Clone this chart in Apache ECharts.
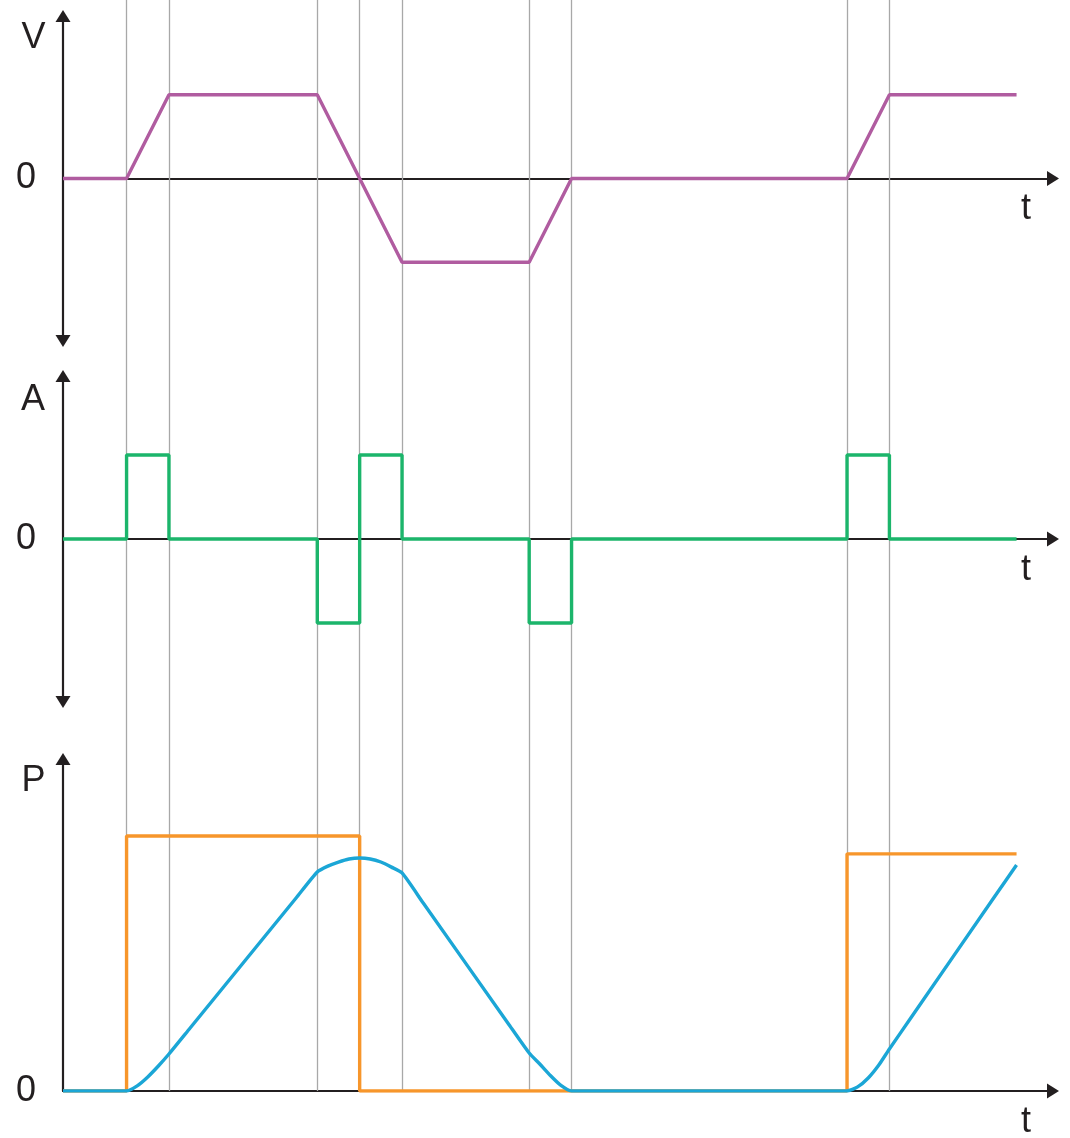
<!DOCTYPE html>
<html><head><meta charset="utf-8">
<script src="https://cdn.jsdelivr.net/npm/echarts@6/dist/echarts.min.js"></script>
<style>html,body{margin:0;padding:0;background:#fff}#c{width:1070px;height:1138px}</style>
</head><body><div id="c"></div>
<script>
// time of each phase change (gray guide lines)
const eventTimes = [1.5, 2.5, 6, 7, 8, 11, 12, 18.5, 19.5];
// velocity
const vTimes  = [0, 1.5, 2.5, 6, 8, 11, 12, 18.5, 19.5, 22.5];
const vValues = [0, 0,   1,   1, -1, -1, 0,  0,    1,    1];
// acceleration
const aTimes  = [0, 1.5, 1.5, 2.5, 2.5, 6, 6, 7, 7, 8, 8, 11, 11, 12, 12, 18.5, 18.5, 19.5, 19.5, 22.5];
const aValues = [0, 0,   1,   1,   0,   0, -1, -1, 1, 1, 0, 0, -1, -1, 0, 0, 1, 1, 0, 0];
// P: step (orange)
const pStepTimes  = [0, 1.5, 1.5, 7, 7, 18.5, 18.5, 22.5];
const pStepValues = [0, 0, 100, 100, 0, 0, 93, 93];
// P: curve (blue)
const pCurveTimes  = [0, 1.5, 1.75, 2, 2.25, 2.5, 3, 5.5, 6, 6.25, 6.5, 6.75, 7, 7.25, 7.5, 7.75, 8, 8.5, 10.5, 11, 11.25, 11.5, 11.75, 12, 18.5, 18.75, 19, 19.25, 19.5, 20, 22, 22.5];
const pCurveValues = [0, 0, 2, 5.5, 9.8, 14.5, 24.7, 75.7, 85.9, 88.2, 89.8, 91, 91.4, 91, 89.8, 87.8, 85.5, 73.7, 26.6, 14.9, 10.6, 6.1, 2.2, 0, 0, 1.6, 5.1, 10.2, 16.5, 28.5, 76.7, 88.6];
const panelNames = ['V', 'A', 'P'];
const axisName = 't';
const zeroLabel = '0';

const zip = (xs, ys) => xs.map((x, i) => [x, ys[i]]);
const INK = '#231f20';
const FONT = "'Liberation Sans', Arial, sans-serif";
const XMAX = 23.36;
const grids = [
  {left: 63, right: 17, top: 16, height: 325},
  {left: 63, right: 17, top: 376, height: 326},
  {left: 63, right: 17, top: 759, height: 332},
  {left: 63, right: 17, top: 0, height: 1091}
];
const yRanges = [[-1.94, 1.94], [-1.94, 1.94], [0, 130.2], [0, 1]];
const yIntervals = [1.94, 1.94, 130.2, 1];
const xAxes = grids.map((g, i) => ({
  type: 'value', gridIndex: i, min: 0, max: XMAX,
  axisLine: {show: i < 3, onZero: true, symbol: ['none', 'triangle'], symbolSize: [15, 12], lineStyle: {color: INK, width: 2.2}},
  axisTick: {show: false}, axisLabel: {show: false}, splitLine: {show: false}
}));
const yAxes = grids.map((g, i) => ({
  type: 'value', gridIndex: i, min: yRanges[i][0], max: yRanges[i][1], interval: yIntervals[i],
  axisLine: {show: i < 3, onZero: false, symbol: i === 2 ? ['none', 'triangle'] : ['triangle', 'triangle'], symbolSize: [15, 12], lineStyle: {color: INK, width: 2.2}},
  axisTick: {show: false}, splitLine: {show: false},
  axisLabel: {show: i < 3, margin: 27, fontSize: 36, color: INK, fontFamily: FONT,
    formatter: v => Math.abs(v) < 1e-9 ? zeroLabel : ''}
}));
const lineSeries = (idx, data, color, z, smooth) => ({
  type: 'line', xAxisIndex: idx, yAxisIndex: idx, data, symbol: 'none', silent: true, z,
  smooth: smooth || false,
  lineStyle: {color, width: 3.4}, animation: false
});
const labelPos = [[33.5, 38], [33, 400], [33.5, 781]];
const tPos = [[1026, 209.5], [1026, 570.5], [1026, 1122.5]];
const graphics = [];
panelNames.forEach((n, i) => {
  graphics.push({type: 'text', x: labelPos[i][0], y: labelPos[i][1], silent: true,
    style: {text: n, fill: INK, font: '36px ' + FONT, textAlign: 'center', textVerticalAlign: 'middle'}});
  graphics.push({type: 'text', x: tPos[i][0], y: tPos[i][1], silent: true,
    style: {text: axisName, fill: INK, font: '36px ' + FONT, textAlign: 'center', textVerticalAlign: 'middle'}});
});
const option = {
  animation: false,
  backgroundColor: '#ffffff',
  grid: grids,
  xAxis: xAxes,
  yAxis: yAxes,
  graphic: graphics,
  series: [
    {type: 'line', xAxisIndex: 3, yAxisIndex: 3, data: [], symbol: 'none', silent: true, z: 1,
      markLine: {silent: true, z: 1, symbol: ['none', 'none'], label: {show: false}, animation: false,
        lineStyle: {color: '#a8a8a8', width: 1.3, type: 'solid'},
        data: eventTimes.map(t => ({xAxis: t}))}},
    lineSeries(0, zip(vTimes, vValues), '#b05ca0', 3),
    lineSeries(1, zip(aTimes, aValues), '#1cb56b', 3),
    lineSeries(2, zip(pStepTimes, pStepValues), '#f7962b', 3),
    lineSeries(2, zip(pCurveTimes, pCurveValues), '#1ba6d6', 4, 0.2)
  ]
};
const chart = echarts.init(document.getElementById('c'), null, {renderer: 'canvas'});
chart.setOption(option);
</script></body></html>
